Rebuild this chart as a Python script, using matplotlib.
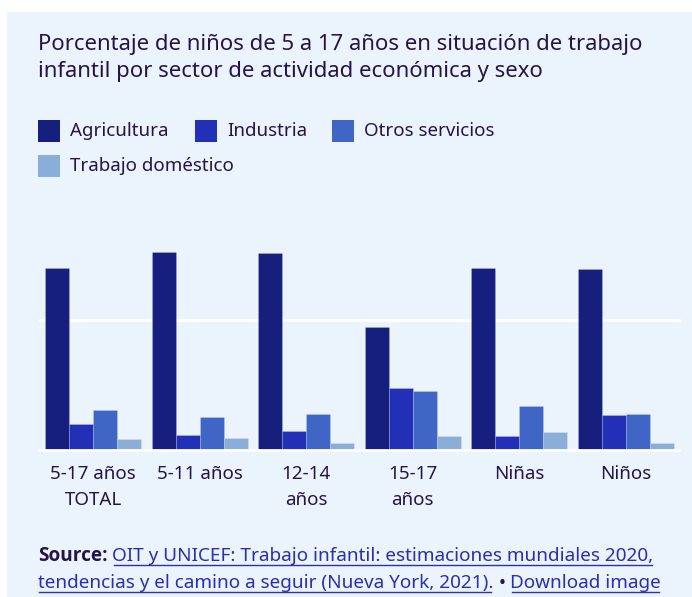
import matplotlib
matplotlib.use("Agg")
import matplotlib.pyplot as plt
from matplotlib.patches import Rectangle
from matplotlib.lines import Line2D
import numpy as np

plt.rcParams['font.family'] = ['Noto Sans', 'DejaVu Sans']

categories = ["5-17 años\nTOTAL", "5-11 años", "12-14\naños", "15-17\naños", "Niñas", "Niños"]
series_names = ["Agricultura", "Industria", "Otros servicios", "Trabajo doméstico"]
agricultura = [70.0, 76.3, 75.6, 47.4, 70.1, 69.5]
industria = [10.0, 5.8, 7.3, 23.7, 5.4, 13.3]
otros_servicios = [15.3, 12.8, 13.7, 22.8, 17.0, 13.7]
trabajo_domestico = [4.2, 4.6, 2.7, 5.5, 6.8, 2.7]
colors = ["#161E7E", "#2230B8", "#3F66C4", "#8BAED9"]

W, H = 692, 597
BG = "#EBF4FC"
TXT = "#261447"
LINK = "#2A2EB0"
FS = 13.5
FS_SRC = 13.65

fig = plt.figure(figsize=(W / 100, H / 100), dpi=100, facecolor="white")

def fx(x):
    return x / W

def fy(y):
    return 1 - y / H

# background panel
fig.patches.append(Rectangle((fx(7), 0), 1 - fx(7), fy(12), transform=fig.transFigure,
                             facecolor=BG, edgecolor="none", zorder=-10))

# axes: x 40..680 px, baseline at y=450, ymax 90 -> 2.6 px / unit
ymax = 90
ax_left, ax_right = 40, 679
base_y = 450
top_y = base_y - ymax * 2.6
ax = fig.add_axes([fx(ax_left), fy(base_y), fx(ax_right - ax_left), (base_y - top_y) / H])
ax.set_zorder(5)
ax.patch.set_visible(False)
ax.set_xlim(-0.5, len(categories) - 0.5)
ax.set_ylim(0, ymax)
for s in ax.spines.values():
    s.set_visible(False)

x = np.arange(len(categories))
w = 0.225
all_series = [agricultura, industria, otros_servicios, trabajo_domestico]
for i, (vals, c) in enumerate(zip(all_series, colors)):
    ax.bar(x + (i - 1.5) * w, vals, width=w, color=c, edgecolor="#FFFFFF40",
           linewidth=0.5, zorder=2, label=series_names[i])

for yv in [0, 50]:
    ax.axhline(yv, color="white", lw=2, zorder=1 if yv else 3, clip_on=False)

ax.set_yticks([])
ax.set_xticks(x)
ax.set_xticklabels(categories, fontsize=FS, color=TXT, linespacing=1.55)
ax.tick_params(axis="x", length=0, pad=11)

# title
fig.text(fx(38), fy(58), "Porcentaje de niños de 5 a 17 años en situación de trabajo\ninfantil por sector de actividad económica y sexo",
         fontsize=15.9, color=TXT, ha="left", va="center", linespacing=1.42)

# legend (flow layout)
leg_items = [(38, 131), (195, 131), (332, 131), (38, 166)]
for (lx, ly), name, c in zip(leg_items, series_names, colors):
    fig.patches.append(Rectangle((fx(lx), fy(ly + 11)), 22 / W, 22 / H, transform=fig.transFigure,
                                 facecolor=c, edgecolor="none"))
    fig.text(fx(lx + 32), fy(ly), name, fontsize=FS, color=TXT, ha="left", va="center")

# source line with underlined links
fig.canvas.draw()
renderer = fig.canvas.get_renderer()

def seq(parts, x0, ybase):
    xcur = x0
    for txt, kind in parts:
        if kind == "bold":
            t = fig.text(fx(xcur), fy(ybase), txt, fontsize=FS_SRC, color=TXT, weight="bold",
                         family=["Open Sans", "DejaVu Sans"], ha="left", va="baseline")
        elif kind == "plain":
            t = fig.text(fx(xcur), fy(ybase), txt, fontsize=FS_SRC, color=TXT,
                         ha="left", va="baseline")
        else:
            t = fig.text(fx(xcur), fy(ybase), txt, fontsize=FS_SRC, color=LINK,
                         ha="left", va="baseline")
        bb = t.get_window_extent(renderer)
        if kind == "link":
            fig.lines.append(Line2D([fx(xcur + 1), fx(xcur) + (bb.width - 2) / W],
                                    [fy(ybase + 4), fy(ybase + 4)], transform=fig.transFigure,
                                    color=LINK, lw=1))
        xcur += bb.width

seq([("Source:", "bold"), ("\u00a0", "plain"),
     ("OIT y UNICEF: Trabajo infantil: estimaciones mundiales 2020,", "link")], 38, 561)
seq([("tendencias y el camino a seguir (Nueva York, 2021).", "link"), ("\u00a0•\u00a0", "plain"),
     ("Download image", "link")], 38, 588)

fig.savefig("out.png", dpi=100, facecolor="white")
